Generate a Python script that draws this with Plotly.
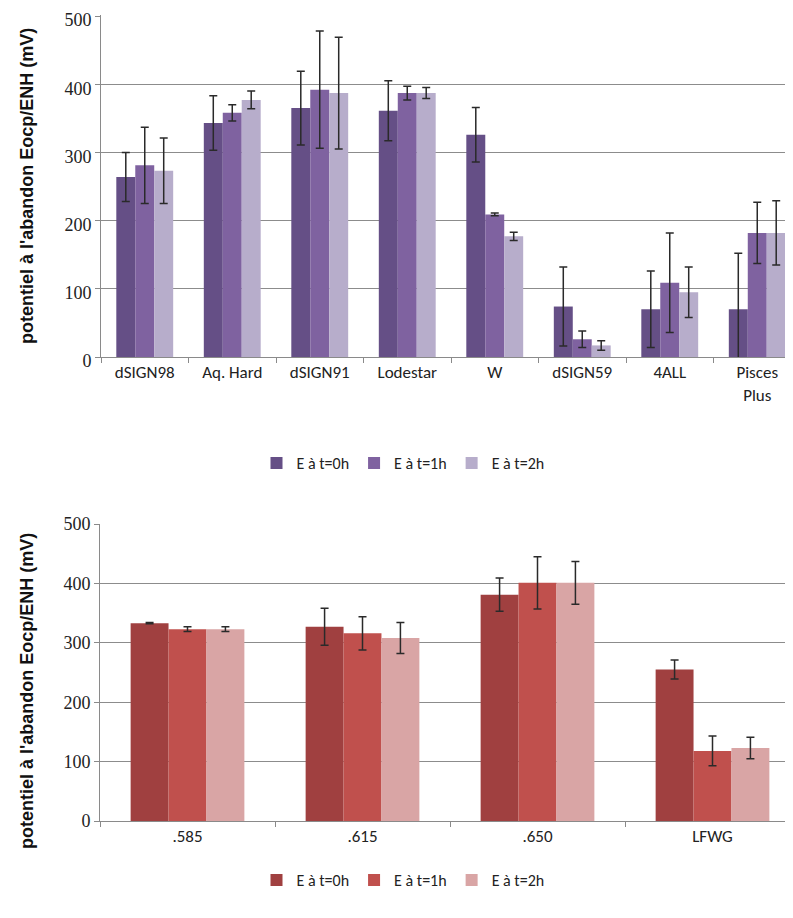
import plotly.graph_objects as go

# ---- data: top chart ----
cats_top = ["dSIGN98", "Aq. Hard", "dSIGN91", "Lodestar", "W", "dSIGN59", "4ALL", "Pisces<br>Plus"]
top_t0 = [264, 343, 365, 361, 326, 74, 70, 70]
top_t0_err = [36, 40, 54, 44, 40, 58, 56, 82]
top_t1 = [281, 358, 392, 387, 209, 26, 109, 182]
top_t1_err = [56, 12, 86, 10, 2, 12, 73, 45]
top_t2 = [273, 377, 387, 387, 177, 17, 95, 182]
top_t2_err = [48, 13, 82, 8, 6, 7, 37, 47]

# ---- data: bottom chart ----
cats_bot = [".585", ".615", ".650", "LFWG"]
bot_t0 = [333, 327, 381, 255]
bot_t0_err = [1, 31, 28, 16]
bot_t1 = [323, 316, 401, 118]
bot_t1_err = [4, 28, 44, 25]
bot_t2 = [323, 308, 401, 123]
bot_t2_err = [4, 26, 36, 18]

y_ticks = [0, 100, 200, 300, 400, 500]

series_names = ["E à t=0h", "E à t=1h", "E à t=2h"]
purple = ["#654F86", "#7F62A0", "#B7ADCB"]
red = ["#A04040", "#C0504D", "#D9A5A5"]

fig = go.Figure()

err_style = dict(type="data", color="#2a2a2a", thickness=1.5, width=4)

for name, vals, errs, col in zip(series_names, [top_t0, top_t1, top_t2],
                                 [top_t0_err, top_t1_err, top_t2_err], purple):
    fig.add_trace(go.Bar(x=cats_top, y=vals, name=name, marker=dict(color=col, line=dict(width=0)),
                         error_y=dict(array=errs, **err_style),
                         xaxis="x", yaxis="y", legend="legend"))

for name, vals, errs, col in zip(series_names, [bot_t0, bot_t1, bot_t2],
                                 [bot_t0_err, bot_t1_err, bot_t2_err], red):
    fig.add_trace(go.Bar(x=cats_bot, y=vals, name=name, marker=dict(color=col, line=dict(width=0)),
                         error_y=dict(array=errs, **err_style),
                         xaxis="x2", yaxis="y2", legend="legend2"))

# page body has an 8px margin; figure coordinates are page coordinates minus 8
OFF = 8
W, H = 793 - OFF, 918 - OFF


def px(v):
    return (v - OFF) / W


def py(v):
    return (H - (v - OFF)) / H


narrow = "Carlito, 'Liberation Sans Narrow', 'DejaVu Sans Condensed', 'Roboto Condensed', 'Arial Narrow', sans-serif"
cat_font = dict(family=narrow, size=17, color="#222")
num_font = dict(family="Liberation Serif, serif", size=18, color="#222")

common_x = dict(type="category", showgrid=False, showline=True, linecolor="#8a8a8a", linewidth=1,
                ticks="outside", tickson="boundaries", ticklen=5, tickcolor="#8a8a8a",
                tickfont=cat_font, automargin=False)
common_y = dict(tickmode="array", tickvals=y_ticks, showgrid=True, gridcolor="#8c8c8c", gridwidth=1,
                showline=True, linecolor="#8a8a8a", linewidth=1, ticks="outside", ticklen=5,
                tickcolor="#8a8a8a", tickfont=num_font, zeroline=False, automargin=False,
                ticklabeloverflow="allow")

leg_font = dict(family=narrow, size=16, color="#222")

# top panel: extend the range a hair so the 500 gridline/label is kept
top_px_per_unit = (357 - 16) / 500
fig.update_layout(
    width=W, height=H, margin=dict(l=0, r=0, t=0, b=0, autoexpand=False),
    paper_bgcolor="white", plot_bgcolor="white",
    barmode="group", bargap=0.35, bargroupgap=0,
    xaxis=dict(domain=[px(101), 1], anchor="y", range=[-0.5, -0.5 + 692 / 87.5], **common_x),
    yaxis=dict(domain=[py(357), py(15)], anchor="x", range=[0, 500 + 1 / top_px_per_unit],
               ticklabelshift=4, **common_y),
    xaxis2=dict(domain=[px(100), 1], anchor="y2", range=[-0.5, -0.5 + 693 / 175], **common_x),
    yaxis2=dict(domain=[py(821), py(524)], anchor="x2", range=[0, 500], **common_y),
    legend=dict(orientation="h", x=px(403), xanchor="center", y=py(463), yanchor="middle",
                font=leg_font, itemwidth=30, traceorder="normal"),
    legend2=dict(orientation="h", x=px(403), xanchor="center", y=py(880), yanchor="middle",
                 font=leg_font, itemwidth=30, traceorder="normal"),
    showlegend=True,
)

title_text = "potentiel à l'abandon Eocp/ENH (mV)"
title_font = dict(family="Liberation Sans, Arial, sans-serif", size=18, color="#111")
fig.add_annotation(text="<b>" + title_text + "</b>", xref="paper", yref="paper",
                   x=px(27), y=py(186), textangle=-90, showarrow=False, font=title_font,
                   xanchor="center", yanchor="middle")
fig.add_annotation(text="<b>" + title_text + "</b>", xref="paper", yref="paper",
                   x=px(27), y=py(691), textangle=-90, showarrow=False, font=title_font,
                   xanchor="center", yanchor="middle")

fig.write_html("out.html")
